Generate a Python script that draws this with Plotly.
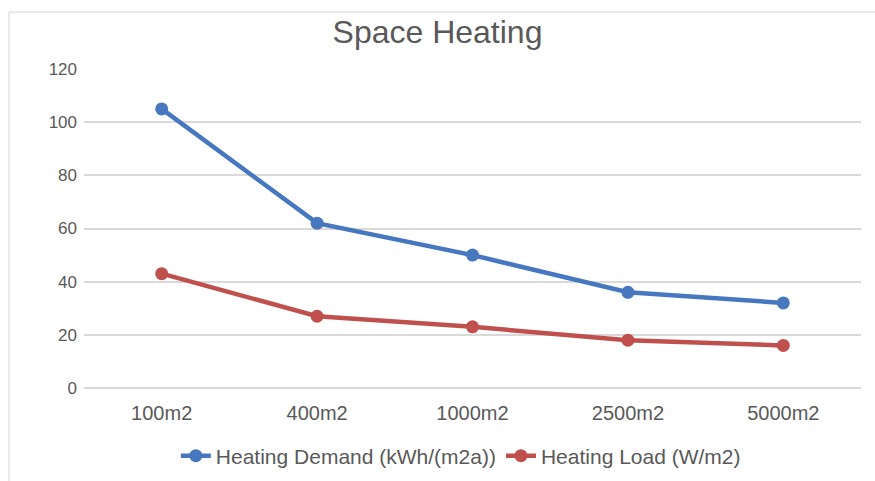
import plotly.graph_objects as go

# Floor area categories and the two space-heating series
categories = ["100m2", "400m2", "1000m2", "2500m2", "5000m2"]
heating_demand = [105, 62, 50, 36, 32]   # kWh/(m2a)
heating_load = [43, 27, 23, 18, 16]      # W/m2

BLUE = "#4677BF"
RED = "#C0504D"
TEXT = "#595959"
GRID = "#D9D9D9"
FONT = "Liberation Sans, Arial, sans-serif"

fig = go.Figure()
fig.add_trace(go.Scatter(
    x=categories, y=heating_demand, mode="lines+markers",
    name="Heating Demand (kWh/(m2a))",
    line=dict(color=BLUE, width=4.5),
    marker=dict(color=BLUE, size=13),
))
fig.add_trace(go.Scatter(
    x=categories, y=heating_load, mode="lines+markers",
    name="Heating Load (W/m2)",
    line=dict(color=RED, width=4.5),
    marker=dict(color=RED, size=13),
))

W, H = 875, 481
L, R, T, B = 84, 14, 69, 93
pw, ph = W - L - R, H - T - B

def px_x(x):
    return (x - L) / pw

def px_y(y):
    return (H - B - y) / ph

# thin chart-area frame along the top and left edges
shapes = [
    dict(type="line", xref="paper", yref="paper",
         x0=px_x(9), x1=px_x(875), y0=px_y(12), y1=px_y(12),
         line=dict(color="#E3E3E3", width=1.5)),
    dict(type="line", xref="paper", yref="paper",
         x0=px_x(9), x1=px_x(9), y0=px_y(12), y1=px_y(481),
         line=dict(color="#E3E3E3", width=1.5)),
]

fig.update_layout(
    width=W, height=H,
    margin=dict(l=L, r=R, t=T, b=B, autoexpand=False),
    paper_bgcolor="white", plot_bgcolor="white",
    font=dict(family=FONT, color=TEXT, size=18),
    title=dict(text="Space Heating", x=0.5, xanchor="center",
               y=1 - 32 / H, yanchor="middle",
               font=dict(size=32, color=TEXT, family=FONT)),
    xaxis=dict(
        type="category", showgrid=False, zeroline=False,
        showline=False, ticks="", ticklabelstandoff=11,
        tickfont=dict(size=20, color=TEXT),
        range=[-0.5, 4.5],
    ),
    yaxis=dict(
        range=[0, 120], dtick=20, showgrid=True, gridcolor=GRID, gridwidth=1.5,
        zeroline=True, zerolinecolor=GRID, zerolinewidth=1.5,
        showline=False, ticks="", ticklabelstandoff=6,
        tickfont=dict(size=17, color=TEXT),
    ),
    legend=dict(
        orientation="h", x=0.485, xanchor="center", y=px_y(456), yanchor="middle",
        font=dict(size=21, color=TEXT), itemwidth=30, tracegroupgap=0,
        bgcolor="rgba(0,0,0,0)",
    ),
    shapes=shapes,
    showlegend=True,
)

fig.write_html("out.html")
